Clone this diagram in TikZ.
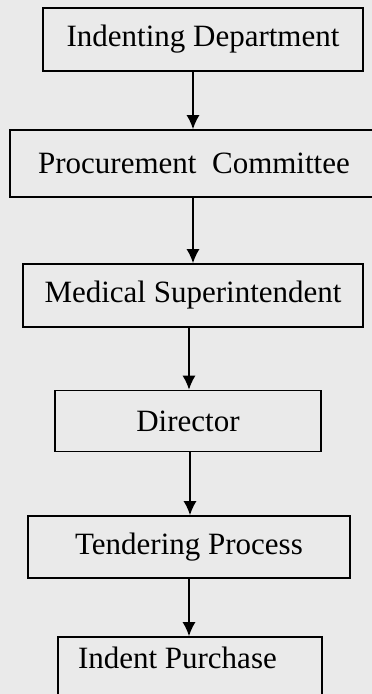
\documentclass[tikz,border=0pt]{standalone}
\usepackage{fontspec}
\setmainfont{Liberation Serif}
\usetikzlibrary{arrows.meta}
\tikzset{
  stagebox/.style={draw, line width=1.6pt, inner sep=0pt, font=\fontsize{31}{38}\selectfont},
  flowarrow/.style={line width=1.6pt, -{Latex[length=14pt, width=13pt]}}
}
\definecolor{paper}{HTML}{EAEAEA}

\begin{document}
\begin{tikzpicture}[x=1pt, y=-1pt]
				\useasboundingbox (0, 0) rectangle (372, 694);
				\fill[paper] (0, 0) rectangle (372, 694);
				\clip (0, 0) rectangle (372, 694);
				\node[stagebox, minimum width=320pt, minimum height=63pt] (indent) at (203, 39.5) {Indenting Department};
				\node[stagebox, minimum width=368pt, minimum height=67pt] (procure) at (194, 163.5) {Procurement\ \ Committee};
				\node[stagebox, minimum width=340pt, minimum height=63pt] (medsup) at (193, 295.5) {Medical Superintendent};
				\node[stagebox, minimum width=266pt, minimum height=61pt] (director) at (188, 421) {Director};
				\node[stagebox, minimum width=322pt, minimum height=62pt] (tender) at (189, 547) {Tendering Process};
				\node[stagebox, minimum width=264pt, minimum height=90pt, align=flush left, text width=244pt, inner xsep=10pt] (purchase) at (190, 682) {\hspace*{10pt}Indent Purchase\\ \strut};
				\draw[flowarrow] (indent.south -| 193, 0) -- (procure.north -| 193, 0);
				\draw[flowarrow] (procure.south -| 193, 0) -- (medsup.north -| 193, 0);
				\draw[flowarrow] (medsup.south -| 189, 0) -- (director.north -| 189, 0);
				\draw[flowarrow] (director.south -| 190, 0) -- (tender.north -| 190, 0);
				\draw[flowarrow] (tender.south -| 189, 0) -- (purchase.north -| 189, 0);
			\end{tikzpicture}
\end{document}
